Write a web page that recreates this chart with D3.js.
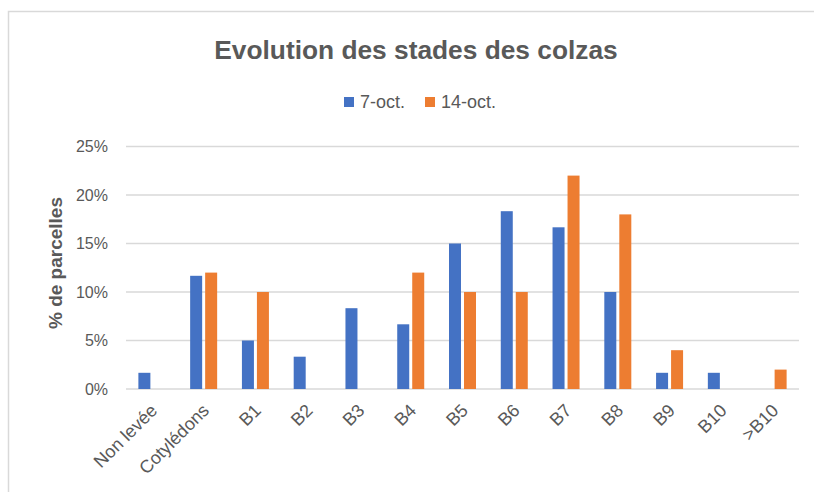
<!DOCTYPE html>
<html><head><meta charset="utf-8">
<script src="https://cdn.jsdelivr.net/npm/d3@7"></script>
<style>body{margin:0;background:#fff;} svg{display:block;font-family:"Liberation Sans",Arial,sans-serif;}</style>
</head><body>
<script>
const categories = ["Non levée","Cotylédons","B1","B2","B3","B4","B5","B6","B7","B8","B9","B10",">B10"];
const seriesNames = ["7-oct.","14-oct."];
const oct7 = [0.0167,0.1167,0.05,0.0333,0.0833,0.0667,0.15,0.1833,0.1667,0.10,0.0167,0.0167,0];
const oct14 = [0,0.12,0.10,0,0,0.12,0.10,0.10,0.22,0.18,0.04,0,0.02];
const yTicks = [0,0.05,0.10,0.15,0.20,0.25];
const colors = ["#4472C4","#ED7D31"];
const title = "Evolution des stades des colzas";
const yTitle = "% de parcelles";

const W=814,H=492;
const svg=d3.select("body").append("svg").attr("width",W).attr("height",H);
svg.append("path").attr("d","M8.5,492 V11.5 H814").attr("fill","none").attr("stroke","#d9d9d9").attr("stroke-width",1.5);

const pL=126,pR=799,pT=146.5,pB=389;
const x=d3.scaleBand().domain(categories).range([pL,pR]).padding(0);
const y=d3.scaleLinear().domain([0,0.25]).range([pB,pT]);

svg.append("g").selectAll("line").data(yTicks).join("line")
  .attr("x1",pL).attr("x2",pR).attr("y1",d=>y(d)).attr("y2",d=>y(d))
  .attr("stroke","#d9d9d9").attr("stroke-width",1.5);

svg.append("g").selectAll("text").data(yTicks).join("text")
  .attr("x",108).attr("y",d=>y(d)).attr("dy","0.35em").attr("text-anchor","end")
  .attr("font-size",16).attr("fill","#595959").text(d=>d3.format(".0%")(d));

const bw=12, gap=3;
const data=[oct7,oct14];
data.forEach((vals,si)=>{
  svg.append("g").selectAll("rect").data(vals.map((v,i)=>({v,c:categories[i]}))).join("rect")
    .attr("x",d=>x(d.c)+x.bandwidth()/2 + (si===0? -bw-gap/2 : gap/2))
    .attr("width",bw)
    .attr("y",d=>y(d.v)).attr("height",d=>y(0)-y(d.v))
    .attr("fill",colors[si]);
});

svg.append("g").selectAll("text").data(categories).join("text")
  .attr("transform",d=>`translate(${x(d)+x.bandwidth()/2-3},${402}) rotate(-45)`)
  .attr("text-anchor","end").attr("dy","0.75em")
  .attr("font-size",18).attr("fill","#595959").text(d=>d);

svg.append("text").attr("x",416).attr("y",59).attr("text-anchor","middle")
  .attr("font-size",26.3).attr("font-weight","bold").attr("fill","#595959").text(title);

svg.append("text").attr("transform","translate(62,263) rotate(-90)").attr("text-anchor","middle")
  .attr("font-size",19).attr("font-weight","bold").attr("fill","#595959").text(yTitle);

const leg=[{n:seriesNames[0],x:344,c:colors[0]},{n:seriesNames[1],x:425,c:colors[1]}];
const lg=svg.append("g");
lg.selectAll("rect").data(leg).join("rect").attr("x",d=>d.x).attr("y",97).attr("width",10).attr("height",10).attr("fill",d=>d.c);
lg.selectAll("text").data(leg).join("text").attr("x",d=>d.x+16).attr("y",102).attr("dy","0.35em")
  .attr("font-size",18).attr("fill","#595959").text(d=>d.n);
</script>
</body></html>
